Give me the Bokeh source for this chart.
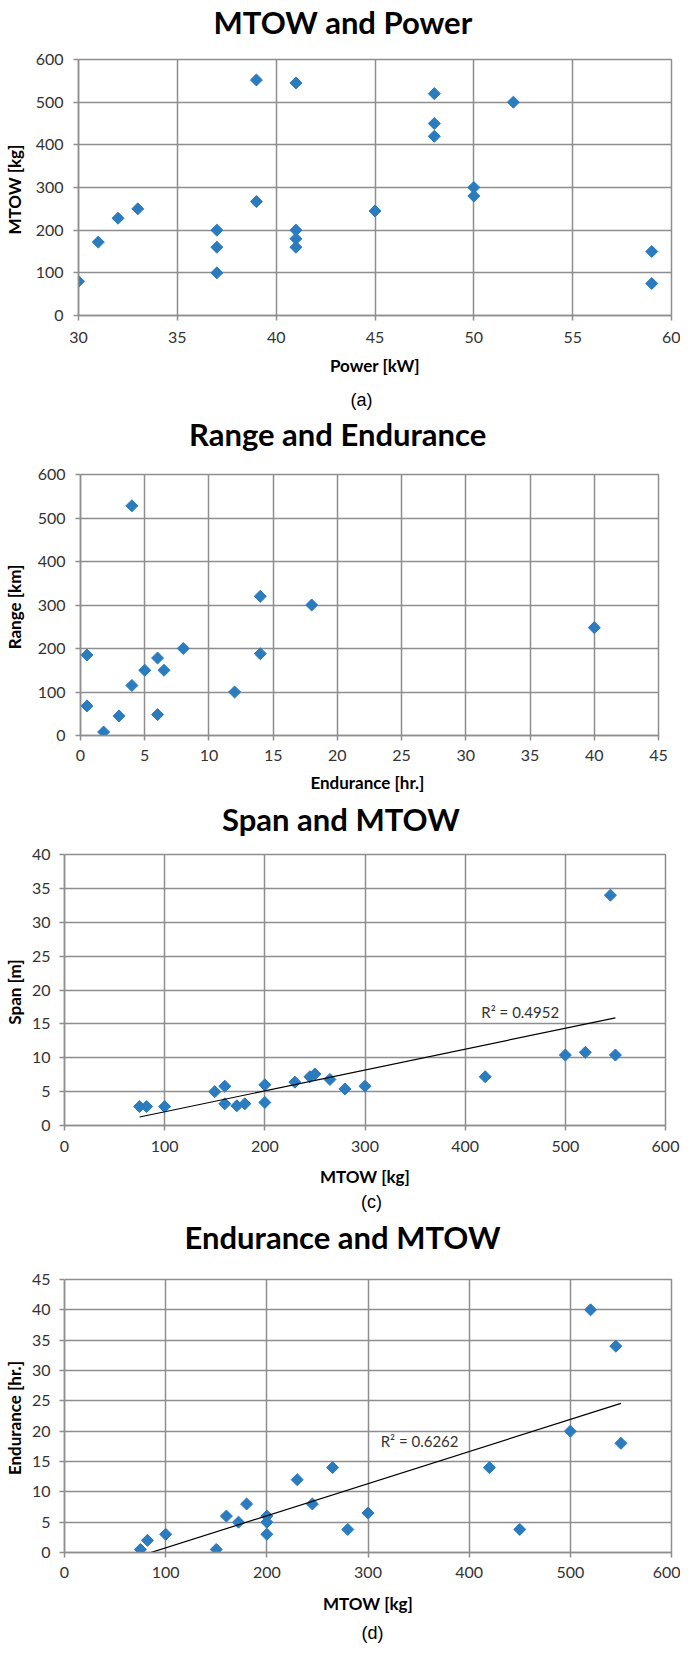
import numpy as np
from bokeh.plotting import figure
from bokeh.models import Range1d, FixedTicker, Title, Label, LinearAxis
from bokeh.layouts import column
from bokeh.embed import file_html
from bokeh.resources import INLINE

# ---------------- data ----------------
# (a) MTOW and Power
power_kw = [30, 31, 32, 33, 37, 37, 37, 39, 39, 41, 41, 41, 41, 45, 48, 48, 48, 50, 50, 52, 59, 59]
mtow_a = [80, 172, 228, 250, 200, 160, 100, 552, 267, 545, 200, 180, 160, 245, 520, 450, 420, 300, 280, 500, 150, 75]

# (b) Range and Endurance
endurance_b = [0.5, 0.5, 1.8, 3, 4, 4, 5, 6, 6, 6.5, 8, 12, 14, 14, 18, 40]
range_b = [185, 68, 8, 45, 528, 115, 150, 178, 48, 150, 200, 100, 320, 188, 300, 248]

# (c) Span and MTOW
mtow_c = [75, 82, 100, 150, 160, 160, 172, 180, 200, 200, 230, 245, 250, 265, 280, 300, 420, 500, 520, 545, 550]
span_c = [2.8, 2.8, 2.8, 5.0, 5.8, 3.2, 2.9, 3.2, 6.0, 3.4, 6.4, 7.2, 7.6, 6.8, 5.4, 5.8, 7.2, 10.4, 10.8, 34.0, 10.4]
r2_c = "R² = 0.4952"

# (d) Endurance and MTOW
mtow_d = [75, 82, 100, 150, 160, 172, 180, 200, 200, 200, 230, 245, 265, 280, 300, 420, 450, 500, 520, 545, 550]
endurance_d = [0.5, 2, 3, 0.5, 6, 5, 8, 6, 5, 3, 12, 8, 14, 3.8, 6.5, 14, 3.8, 20, 40, 34, 18]
r2_d = "R² = 0.6262"

titles = ["MTOW and Power", "Range and Endurance", "Span and MTOW", "Endurance and MTOW"]
xlabels = ["Power [kW]", "Endurance  [hr.]", "MTOW [kg]", "MTOW [kg]"]
ylabels = ["MTOW  [kg]", "Range  [km]", "Span  [m]", "Endurance  [hr.]"]
captions = ["(a)", None, "(c)", "(d)"]

ticks_power = [30, 35, 40, 45, 50, 55, 60]
ticks_endur_b = [0, 5, 10, 15, 20, 25, 30, 35, 40, 45]
ticks_mtow = [0, 100, 200, 300, 400, 500, 600]
ticks_600 = [0, 100, 200, 300, 400, 500, 600]
ticks_span = [0, 5, 10, 15, 20, 25, 30, 35, 40]
ticks_endur_d = [0, 5, 10, 15, 20, 25, 30, 35, 40, 45]

# ---------------- style ----------------
BLUE = "#2b7bbf"
GRID = "#8e8e8e"
TICKC = "#333333"
FONT = "Lato"
W = 680


def spacer(px, at):
    """A blank axis (one white tick, empty label) that only reserves room
    in a side panel, to place the title / caption."""
    return LinearAxis(ticker=FixedTicker(ticks=[at]), axis_line_color=None,
                      major_tick_line_color="white", major_tick_line_width=1,
                      minor_tick_line_color=None,
                      major_tick_out=px, major_tick_in=0, minor_tick_out=0,
                      minor_tick_in=0, major_label_standoff=0,
                      major_label_overrides={at: ""},
                      major_label_text_font_size="1px",
                      major_label_text_color="white")


def make_panel(i, xs, ys, xticks, yticks, page_top, H, frame,
               t_space, t_off, xstd, ystd, c_space=0, c_off=0):
    fl, fr, ft, fb = frame  # frame edges in page pixels
    p = figure(width=W, height=H,
               x_range=Range1d(xticks[0], xticks[-1]),
               y_range=Range1d(yticks[0], yticks[-1]),
               output_backend="svg", toolbar_location=None,
               frame_align=False,
               min_border_left=fl - 8, min_border_right=W - (fr - 8),
               min_border_top=ft - page_top, min_border_bottom=page_top + H - fb)

    xa = p.xaxis[0]
    ya = p.yaxis[0]
    xa.ticker = FixedTicker(ticks=xticks)
    ya.ticker = FixedTicker(ticks=yticks)
    for ax in (xa, ya):
        ax.axis_line_color = GRID
        ax.axis_line_width = 1.5
        ax.major_tick_line_color = GRID
        ax.major_tick_line_width = 1.5
        ax.major_tick_out = 5
        ax.major_tick_in = 0
        ax.minor_tick_line_color = None
        ax.major_label_text_font = FONT
        ax.major_label_text_font_size = "16px"
        ax.major_label_text_color = TICKC
        ax.axis_label_text_font = FONT
        ax.axis_label_text_font_size = "17px"
        ax.axis_label_text_font_style = "bold"
        ax.axis_label_text_color = "black"
    xa.axis_label = xlabels[i]
    ya.axis_label = ylabels[i]
    xa.major_label_standoff = xstd[0]
    xa.axis_label_standoff = xstd[1]
    ya.major_label_standoff = ystd[0]
    ya.axis_label_standoff = ystd[1]

    for g in (p.xgrid, p.ygrid):
        g.grid_line_color = GRID
        g.grid_line_width = 1.5
    p.outline_line_color = GRID
    p.outline_line_width = 1.5
    p.background_fill_color = "white"
    p.border_fill_color = "white"

    p.scatter(xs, ys, marker="square", angle=np.pi / 4, size=8.5,
              fill_color=BLUE, line_color=BLUE)

    # title, lifted off the frame by a blank spacer axis
    p.add_layout(spacer(t_space, xticks[0]), "above")
    p.title.text = titles[i]
    p.title.text_font = FONT
    p.title.text_font_size = "31px"
    p.title.text_font_style = "bold"
    p.title.text_color = "black"
    p.title.align = "left"
    p.title.offset = t_off
    p.title.standoff = 0
    p.title.vertical_align = "bottom"

    if captions[i]:
        p.add_layout(spacer(c_space, xticks[0]), "below")
        p.add_layout(Title(text=captions[i], align="left", offset=c_off,
                           standoff=0, vertical_align="bottom",
                           text_font="Liberation Sans", text_font_size="18px",
                           text_font_style="normal", text_color="black"), "below")
    return p


pa = make_panel(0, power_kw, mtow_a, ticks_power, ticks_600, 8, 412,
                (83, 679, 67, 323), 19, 135, (11, 9), (10, 8), 9, 272)
pb = make_panel(1, endurance_b, range_b, ticks_endur_b, ticks_600, 420, 385,
                (83, 666, 482, 743), 22, 108.5, (9, 8), (10, 10))
pc = make_panel(2, mtow_c, span_c, ticks_mtow, ticks_span, 805, 418,
                (66, 673, 862, 1133), 17, 157.5, (10, 11), (9, 4), 0, 296.5)
pd = make_panel(3, mtow_d, endurance_d, ticks_mtow, ticks_endur_d, 1223, 430,
                (66, 679, 1287, 1560), 24, 120, (9, 12), (9, 4), 4, 297)

# trendlines (least squares from the data)
for p, xs, ys, txt, lx, ly in ((pc, mtow_c, span_c, r2_c, 455, 16.8),
                                (pd, mtow_d, endurance_d, r2_d, 351, 18.3)):
    k = np.polyfit(xs, ys, 1)
    xl = np.array([min(xs), max(xs)], dtype=float)
    p.line(xl, np.polyval(k, xl), line_color="black", line_width=1.2)
    p.add_layout(Label(x=lx, y=ly, text=txt, text_align="center",
                       text_baseline="middle", text_font=FONT,
                       text_font_size="15px", text_color="#333333"))

layout = column(pa, pb, pc, pd, spacing=0)
open("out.html", "w").write(file_html(layout, INLINE))
